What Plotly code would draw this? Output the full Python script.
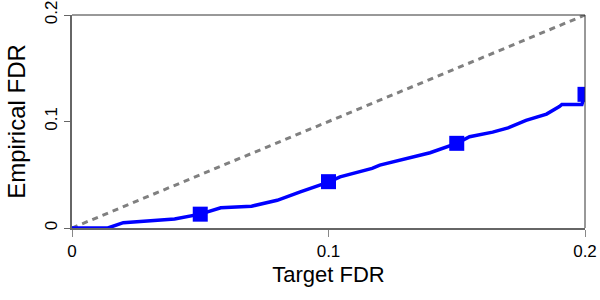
import plotly.graph_objects as go

target_fdr = [0.0, 0.014, 0.02, 0.03, 0.04, 0.05, 0.058, 0.07, 0.08, 0.089, 0.1, 0.1045,
              0.11, 0.117, 0.12, 0.1306, 0.1396, 0.15, 0.155, 0.164, 0.17, 0.177, 0.185,
              0.19, 0.191, 0.1988, 0.2]
empirical_fdr = [0.0, 0.0, 0.005, 0.0066, 0.0085, 0.013, 0.019, 0.0205, 0.026, 0.034, 0.043,
                 0.048, 0.0515, 0.056, 0.059, 0.065, 0.0707, 0.0795, 0.0857, 0.090, 0.094,
                 0.101, 0.107, 0.114, 0.116, 0.116, 0.1255]
marker_x = [0.05, 0.1, 0.15, 0.2]
marker_y = [0.013, 0.0435, 0.0795, 0.1255]
diag = [0.0, 0.2]
ticks = [0, 0.1, 0.2]
tick_text = ["0", "0.1", "0.2"]

fig = go.Figure()
fig.add_trace(go.Scatter(x=diag, y=diag, mode="lines",
                         line=dict(color="#808080", width=3, dash="6px,5px"),
                         hoverinfo="skip"))
fig.add_trace(go.Scatter(x=target_fdr, y=empirical_fdr, mode="lines",
                         line=dict(color="#0000ff", width=3.5)))
fig.add_trace(go.Scatter(x=marker_x, y=marker_y, mode="markers",
                         marker=dict(symbol="square", size=15, color="#0000ff"),
                         cliponaxis=True))

font = "Liberation Sans, Arial, sans-serif"
fig.update_layout(
    width=600, height=300, showlegend=False,
    margin=dict(l=72, r=15, t=15, b=72),
    plot_bgcolor="white", paper_bgcolor="white",
    font=dict(family=font, color="black"),
    xaxis=dict(range=[0, 0.2], tickvals=ticks, ticktext=tick_text, showgrid=False,
               zeroline=False, showline=True, linecolor="#666666", linewidth=2,
               ticks="outside", ticklen=7, tickcolor="#888888", tickwidth=1,
               automargin=False, ticklabeloverflow="allow",
               tickfont=dict(size=17), title=dict(text="Target FDR", font=dict(size=22), standoff=6)),
    yaxis=dict(range=[0, 0.2], tickvals=ticks, ticktext=tick_text, showgrid=False,
               zeroline=False, showline=True, linecolor="#666666", linewidth=2,
               ticks="outside", ticklen=6, tickcolor="#666666", tickwidth=1,
               automargin=False, ticklabeloverflow="allow",
               tickangle=-90, tickfont=dict(size=17),
               title=dict(text="Empirical FDR", font=dict(size=24), standoff=10)),
    shapes=[
        dict(type="line", xref="paper", yref="paper", x0=0, x1=1, y0=1, y1=1,
             line=dict(color="#333333", width=1)),
        dict(type="line", xref="paper", yref="paper", x0=1, x1=1, y0=0, y1=1,
             line=dict(color="#333333", width=1)),
    ],
)
fig.write_html("out.html", config={"displayModeBar": False},
               post_script="document.body.style.margin='0';document.body.style.overflow='hidden';")
